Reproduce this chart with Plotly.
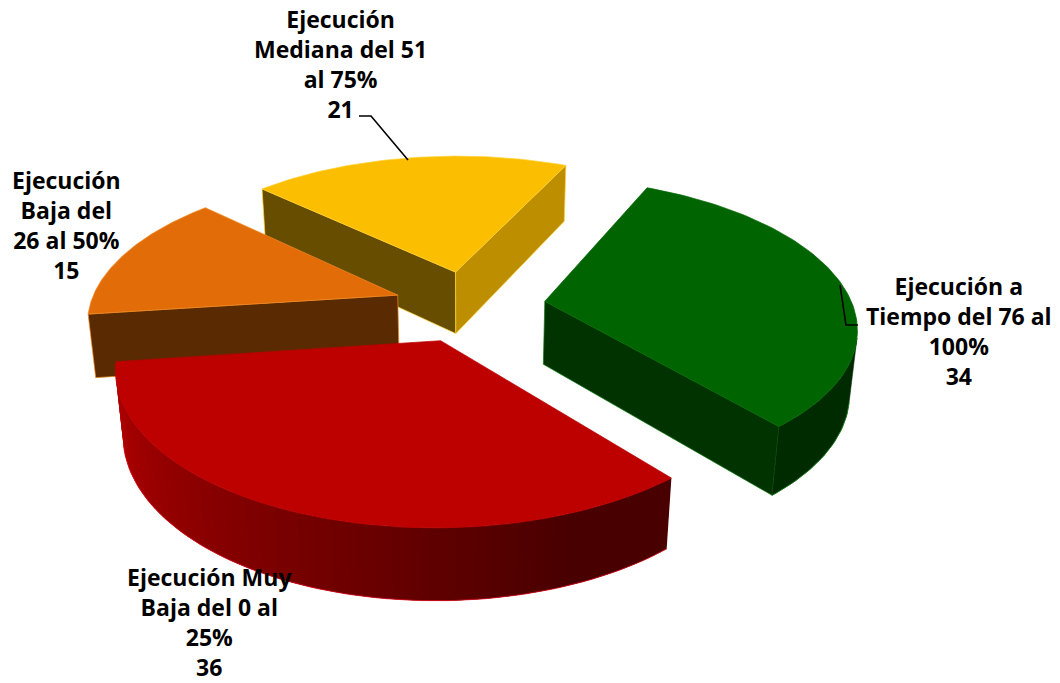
import math
import plotly.graph_objects as go

categories = ["Ejecución a<br>Tiempo del 76 al<br>100%", "Ejecución Muy<br>Baja del 0 al<br>25%",
              "Ejecución<br>Baja del<br>26 al 50%", "Ejecución<br>Mediana del 51<br>al 75%"]
values = [34, 36, 15, 21]
top_colors = ["#006400", "#BD0000", "#E26C08", "#FBBE00"]
edge_colors = ["#0A7A0A", "#E01020", "#F08A20", "#FFD030"]
top_lines = ["#006400", "#BD0000", "#F08A20", "#FFD030"]
wall_first = ["#003300", "#480000", "#5A2A03", "#664D00"]
wall_last = ["#003300", "#480000", "#5A2A03", "#BD8F00"]
wall_outer_start = ["#002B00", "#480000", "#5A2A03", "#BD8F00"]
wall_outer_end = ["#002B00", "#B00000", "#5A2A03", "#BD8F00"]
label_pos = [(959, 331), (209, 622), (66, 225), (340, 64)]

FIRST_ANGLE = 65.3
EXPLODE = 0.248
HEIGHT = 0.237
ELEV = math.radians(28)
DIST = 5.5
RAD_PX = 308.0
CX, CY = 469.5, 306.0


def project(X, Y, Z):
    depth = -Y * math.cos(ELEV) + Z * math.sin(ELEV)
    up = Y * math.sin(ELEV) + Z * math.cos(ELEV)
    s = RAD_PX * DIST / (DIST - depth)
    return CX + X * s, CY - up * s


def poly(fig, pts, fill, line=None, width=0.8):
    xs = [p[0] for p in pts] + [pts[0][0]]
    ys = [p[1] for p in pts] + [pts[0][1]]
    fig.add_trace(go.Scatter(x=xs, y=ys, mode="lines", fill="toself", fillcolor=fill,
                             line=dict(color=line or fill, width=width),
                             hoverinfo="skip", showlegend=False))


def signed_area(pts):
    a = 0.0
    for i in range(len(pts)):
        x0, y0 = pts[i]
        x1, y1 = pts[(i + 1) % len(pts)]
        a += x0 * y1 - x1 * y0
    return a


def mix(c0, c1, t):
    a = [int(c0[i:i + 2], 16) for i in (1, 3, 5)]
    b = [int(c1[i:i + 2], 16) for i in (1, 3, 5)]
    return "#%02X%02X%02X" % tuple(round(a[k] + (b[k] - a[k]) * t) for k in range(3))


def wall(p, q):
    return [project(p[0], p[1], 0), project(q[0], q[1], 0),
            project(q[0], q[1], -HEIGHT), project(p[0], p[1], -HEIGHT)]


total = sum(values)
fig = go.Figure()
slices = []
ang = FIRST_ANGLE
for i, v in enumerate(values):
    sweep = v / total * 360
    slices.append((i, ang, ang - sweep))
    ang -= sweep

order = sorted(slices, key=lambda s: math.sin(math.radians((s[1] + s[2]) / 2)), reverse=True)
for i, a0, a1 in order:
    mid = math.radians((a0 + a1) / 2)
    ox, oy = EXPLODE * math.cos(mid), EXPLODE * math.sin(mid)
    n = 90
    angs = [math.radians(a0 + (a1 - a0) * k / n) for k in range(n + 1)]
    rim = [(ox + math.cos(t), oy + math.sin(t)) for t in angs]
    tip = (ox, oy)
    for p, q, col in ((tip, rim[0], wall_first[i]), (rim[-1], tip, wall_last[i])):
        quad = wall(p, q)
        if signed_area(quad) < 0:
            poly(fig, quad, col, edge_colors[i], 0.7)
    visible = [k for k in range(n) if signed_area(wall(rim[k], rim[k + 1])) < 0]
    if visible:
        if wall_outer_start[i] == wall_outer_end[i]:
            span = rim[visible[0]:visible[-1] + 2]
            pts = [project(x, y, 0) for x, y in span] + [project(x, y, -HEIGHT) for x, y in reversed(span)]
            poly(fig, pts, wall_outer_start[i], wall_outer_start[i], 0.5)
        else:
            for k in reversed(visible):
                # each strip reaches under its neighbour, so no seam shows
                q = rim[min(k + 3, n)]
                t = max(0.0, (k / n - 0.12) / 0.8)
                col = mix(wall_outer_start[i], wall_outer_end[i], min(t, 1.0))
                poly(fig, wall(rim[k], q), col, col, 0)
        bottom = [project(x, y, -HEIGHT) for x, y in rim[visible[0]:visible[-1] + 2]]
        fig.add_trace(go.Scatter(x=[b[0] for b in bottom], y=[b[1] for b in bottom], mode="lines",
                                 line=dict(color=edge_colors[i], width=0.8), hoverinfo="skip", showlegend=False))
    poly(fig, [project(tip[0], tip[1], 0)] + [project(x, y, 0) for x, y in rim], top_colors[i], top_lines[i], 0.7)

for (x, y), cat, v in zip(label_pos, categories, values):
    fig.add_annotation(x=x, y=y, text=f"<b>{cat}<br>{v}</b>", showarrow=False, align="center",
                       xanchor="center", yanchor="middle",
                       font=dict(family="Open Sans, sans-serif", size=23, color="#000000"))

leaders = ["M 359 116 L 371 116 L 408 160", "M 840 285 L 846 325 L 858 325"]
fig.update_layout(
    width=1060, height=683, margin=dict(l=0, r=0, t=0, b=0),
    paper_bgcolor="white", plot_bgcolor="white", showlegend=False,
    xaxis=dict(range=[0, 1060], visible=False, fixedrange=True),
    yaxis=dict(range=[683, 0], visible=False, fixedrange=True),
    shapes=[dict(type="path", path=p, line=dict(color="black", width=1.6), layer="above") for p in leaders],
)
fig.write_html("out.html", config={"displayModeBar": False},
               post_script="document.body.style.margin='0';document.body.style.overflow='hidden';")
